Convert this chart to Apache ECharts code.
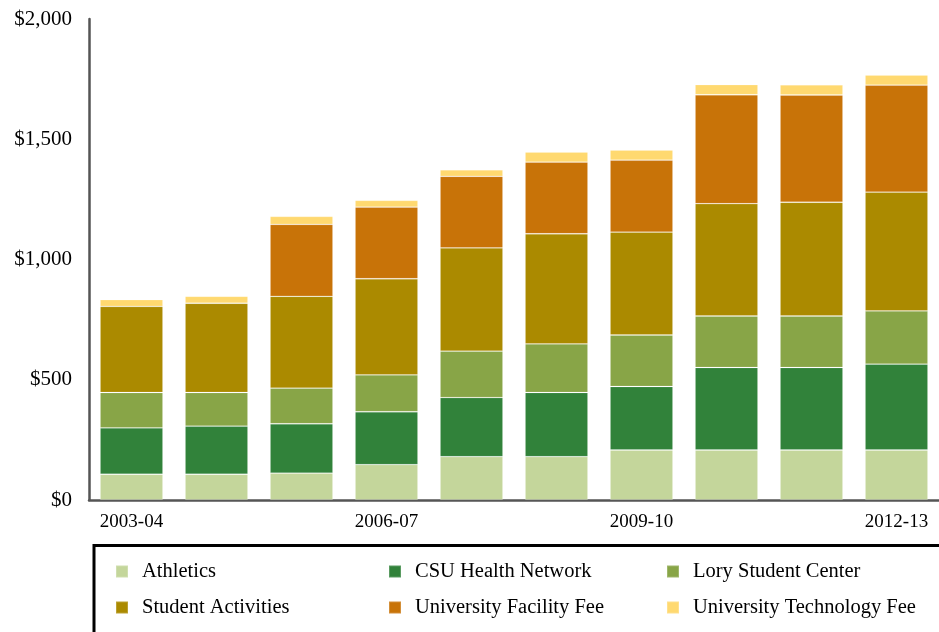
<!DOCTYPE html>
<html>
<head>
<meta charset="utf-8">
<script src="https://cdn.jsdelivr.net/npm/echarts@6/dist/echarts.min.js"></script>
<style>html,body{margin:0;padding:0;background:#fff;}#c{width:939px;height:632px;}</style>
</head>
<body>
<div id="c"></div>
<script>
const categories = ['2003-04','2004-05','2005-06','2006-07','2007-08','2008-09','2009-10','2010-11','2011-12','2012-13'];
const athletics = [107,107,112,147,180,180,208,208,208,208];
const csuHealth = [193,200,205,220,246,267,264,343,343,357];
const lory = [147,140,148,153,193,202,214,214,214,221];
const studentActivities = [358,371,382,400,429,458,428,467,473,494];
const facilityFee = [null,null,299,298,298,298,299,453,446,445];
const techFee = [28,29,33,28,27,42,42,42,42,42];
const yTicks = [0,500,1000,1500,2000];

const seriesNames = ['Athletics','CSU Health Network','Lory Student Center','Student Activities','University Facility Fee','University Technology Fee'];
const seriesData = [athletics, csuHealth, lory, studentActivities, facilityFee, techFee];
const colors = ['#C4D69B','#31823A','#88A547','#AB8A00','#C87308','#FFD970'];

const font = 'Liberation Serif';
const chart = echarts.init(document.getElementById('c'));
const legendBase = {
  orient: 'vertical', padding: 0, itemWidth: 12, itemHeight: 12, itemGap: 15, top: 561,
  icon: 'rect',
  textStyle: {fontFamily: font, fontSize: 20.5, color: '#000', lineHeight: 21, padding: [0,0,0,9]}
};
chart.setOption({
  animation: false,
  color: colors,
  grid: {left: 89, right: 0, top: 19, bottom: 132, containLabel: false},
  xAxis: {
    type: 'category', data: categories,
    axisTick: {show: false},
    axisLine: {lineStyle: {color: '#555', width: 2.5}},
    axisLabel: {interval: 2, fontFamily: font, fontSize: 19, color: '#000', margin: 13}
  },
  yAxis: {
    type: 'value', min: yTicks[0], max: yTicks[yTicks.length-1], interval: 500,
    splitLine: {show: false},
    axisTick: {show: false},
    axisLine: {show: true, lineStyle: {color: '#555', width: 2.5}},
    axisLabel: {fontFamily: font, fontSize: 21, color: '#000', margin: 17,
      formatter: v => '$' + v.toLocaleString('en-US')}
  },
  legend: [
    Object.assign({}, legendBase, {left: 115, data: [seriesNames[0], seriesNames[3]]}),
    Object.assign({}, legendBase, {left: 388, data: [seriesNames[1], seriesNames[4]]}),
    Object.assign({}, legendBase, {left: 666, data: [seriesNames[2], seriesNames[5]]})
  ],
  graphic: [{
    type: 'rect', shape: {x: 94, y: 545.5, width: 900, height: 200},
    style: {fill: 'none', stroke: '#000', lineWidth: 3}, silent: true
  }],
  series: seriesNames.map((n, i) => ({
    name: n, type: 'bar', stack: 'total', data: seriesData[i],
    barCategoryGap: '26%',
    itemStyle: {color: colors[i], borderColor: 'rgba(255,255,255,0.2)', borderWidth: 0.8}
  }))
});
</script>
</body>
</html>
